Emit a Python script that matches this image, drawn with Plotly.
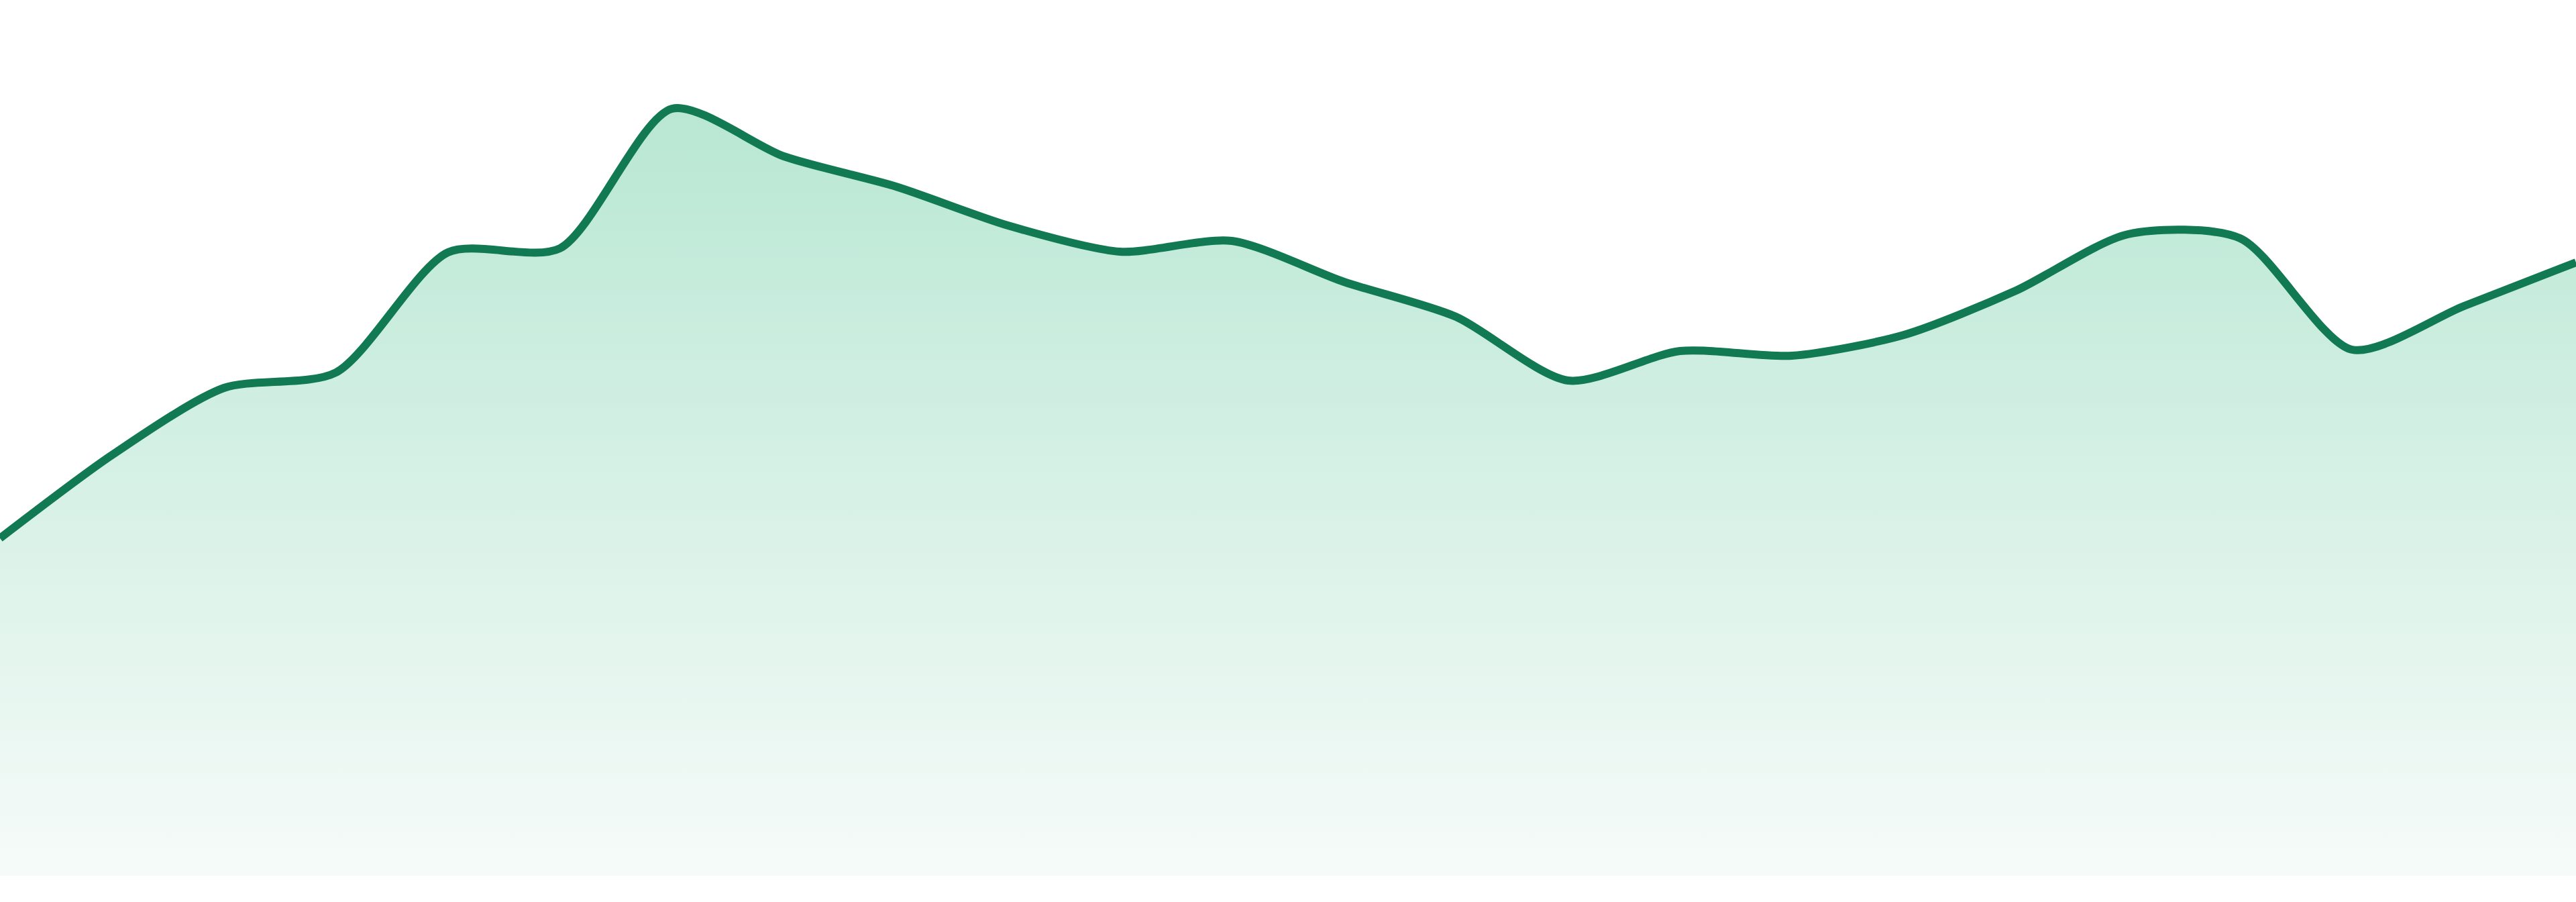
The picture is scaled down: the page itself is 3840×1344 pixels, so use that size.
import plotly.graph_objects as go

# x positions (24 evenly spaced samples)
x_index = list(range(24))
# series values (height above baseline)
values = [503, 627, 727, 750, 929, 935, 1143, 1072, 1027, 969, 930, 946,
          885, 833, 738, 782, 775, 806, 872, 956, 950, 784, 849, 914]

line_color = "#117a52"
fill_top = "rgb(184,231,211)"
fill_bottom = "rgb(246,251,249)"

fig = go.Figure()
fig.add_trace(go.Scatter(
    x=x_index,
    y=values,
    mode="lines",
    line=dict(color=line_color, width=12, shape="spline", smoothing=0.75),
    fill="tozeroy",
    fillgradient=dict(type="vertical",
                      colorscale=[[0, fill_bottom], [1, fill_top]]),
    hoverinfo="skip",
    showlegend=False,
))

fig.update_layout(
    width=3840,
    height=1344,
    autosize=False,
    margin=dict(l=0, r=0, t=0, b=39),
    paper_bgcolor="white",
    plot_bgcolor="white",
    xaxis=dict(range=[0, 23], visible=False, showgrid=False, zeroline=False, fixedrange=True),
    yaxis=dict(range=[0, 1305], visible=False, showgrid=False, zeroline=False, fixedrange=True),
    showlegend=False,
)

post = "document.body.style.margin='0';document.body.style.overflow='hidden';"

fig.write_html("out.html", config={"displayModeBar": False}, post_script=post)
